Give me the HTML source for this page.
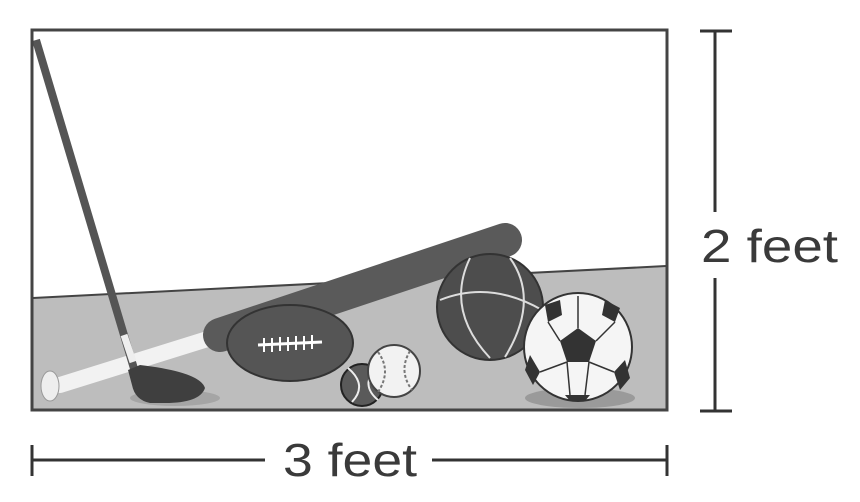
<!DOCTYPE html>
<html><head><meta charset="utf-8"><style>
html,body{margin:0;padding:0;background:#fff;}
svg{display:block;}
text{font-family:"Liberation Sans",sans-serif;fill:#3a3a3a;}
</style></head><body>
<svg width="860" height="502" viewBox="0 0 860 502">
<defs><clipPath id="box"><rect x="33" y="31" width="633" height="378"/></clipPath></defs>
<g clip-path="url(#box)">
  <rect x="32" y="30" width="635" height="380" fill="#fff"/>
  <polygon points="32,298 667,266 667,410 32,410" fill="#bdbdbd"/>
  <line x1="32" y1="298" x2="667" y2="266" stroke="#444" stroke-width="2"/>
  <ellipse cx="580" cy="398" rx="55" ry="10" fill="#9a9a9a"/>
  <ellipse cx="175" cy="398" rx="45" ry="8" fill="#a5a5a5"/>
  <g>
    <line x1="60" y1="385" x2="230" y2="332" stroke="#f2f2f2" stroke-width="16" stroke-linecap="round"/>
    <line x1="220" y1="335" x2="505" y2="240" stroke="#5a5a5a" stroke-width="34" stroke-linecap="round"/>
    <ellipse cx="50" cy="386" rx="9" ry="15" fill="#eee" stroke="#999"/>
  </g>
  <g>
    <line x1="36" y1="40" x2="135" y2="372" stroke="#555" stroke-width="8"/>
    <line x1="124" y1="335" x2="133" y2="362" stroke="#eee" stroke-width="7"/>
    <path d="M128,370 L140,365 Q200,372 205,388 Q200,403 165,403 L150,403 Q135,400 132,385 Z" fill="#3f3f3f"/>
  </g>
  <g>
    <ellipse cx="290" cy="343" rx="63" ry="38" fill="#555" stroke="#333" stroke-width="2"/>
    <line x1="258" y1="345" x2="322" y2="342" stroke="#fff" stroke-width="3"/>
    <g stroke="#fff" stroke-width="2">
      <line x1="264" y1="338" x2="264" y2="352"/><line x1="272" y1="338" x2="272" y2="352"/>
      <line x1="280" y1="337" x2="280" y2="351"/><line x1="288" y1="337" x2="288" y2="351"/>
      <line x1="296" y1="336" x2="296" y2="350"/><line x1="304" y1="336" x2="304" y2="350"/>
      <line x1="312" y1="335" x2="312" y2="349"/>
    </g>
  </g>
  <g>
    <circle cx="490" cy="307" r="53" fill="#4d4d4d" stroke="#333" stroke-width="2"/>
    <path d="M440,300 Q490,280 542,310 M470,258 Q445,310 490,358 M510,258 Q540,300 505,357" stroke="#ddd" stroke-width="2" fill="none"/>
  </g>
  <g>
    <circle cx="362" cy="385" r="21" fill="#5a5a5a" stroke="#222" stroke-width="2"/>
    <path d="M348,368 Q368,385 352,402 M376,368 Q360,385 378,400" stroke="#eee" stroke-width="2" fill="none"/>
  </g>
  <g>
    <circle cx="394" cy="371" r="26" fill="#f2f2f2" stroke="#444" stroke-width="2"/>
    <path d="M378,352 Q392,371 378,392 M410,351 Q398,371 412,390" stroke="#777" stroke-width="2" fill="none" stroke-dasharray="3,2"/>
  </g>
  <g>
    <circle cx="578" cy="347" r="54" fill="#f5f5f5" stroke="#333" stroke-width="2"/>
    <polygon points="578,328 596,341 589,362 567,362 560,341" fill="#333"/>
    <polygon points="545,305 560,300 562,315 548,322" fill="#333"/>
    <polygon points="605,300 620,308 615,322 602,315" fill="#333"/>
    <polygon points="530,355 540,372 533,385 525,370" fill="#333"/>
    <polygon points="625,360 630,378 620,390 614,372" fill="#333"/>
    <polygon points="565,395 590,395 585,401 570,401" fill="#333"/>
    <g stroke="#333" stroke-width="1.5">
      <line x1="578" y1="328" x2="578" y2="296"/><line x1="596" y1="341" x2="615" y2="322"/>
      <line x1="560" y1="341" x2="548" y2="322"/><line x1="567" y1="362" x2="540" y2="372"/>
      <line x1="589" y1="362" x2="614" y2="372"/><line x1="567" y1="362" x2="570" y2="395"/>
      <line x1="589" y1="362" x2="585" y2="395"/>
    </g>
  </g>
</g>
<rect x="32" y="30" width="635" height="380" fill="none" stroke="#444" stroke-width="3"/>
<g stroke="#333" stroke-width="3">
  <line x1="700" y1="31" x2="732" y2="31"/><line x1="700" y1="411" x2="732" y2="411"/>
  <line x1="715" y1="31" x2="715" y2="212"/><line x1="715" y1="278" x2="715" y2="411"/>
</g>
<text x="701" y="262" font-size="46" textLength="137" lengthAdjust="spacingAndGlyphs">2 feet</text>
<g stroke="#333" stroke-width="3">
  <line x1="32" y1="445" x2="32" y2="476"/><line x1="667" y1="445" x2="667" y2="476"/>
  <line x1="32" y1="460" x2="265" y2="460"/><line x1="432" y1="460" x2="667" y2="460"/>
</g>
<text x="283" y="476" font-size="46" textLength="134" lengthAdjust="spacingAndGlyphs">3 feet</text>
</svg>
</body></html>
